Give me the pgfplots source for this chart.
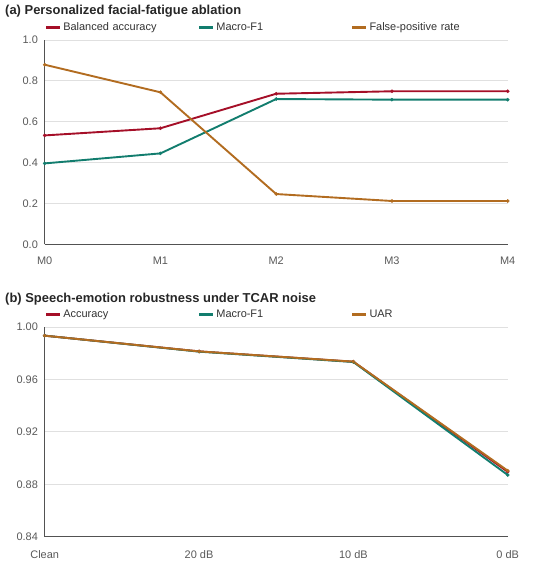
\documentclass[border=0pt]{standalone}
\usepackage{pgfplots}
\pgfplotsset{compat=1.18}
\usepackage{fontspec}
\setmainfont{Liberation Sans}
\definecolor{cred}{RGB}{165,15,40}
\definecolor{cteal}{RGB}{18,125,110}
\definecolor{corange}{RGB}{178,108,32}
\pgfplotsset{myax/.style={
  scale only axis, width=463bp,
  axis x line*=bottom, axis y line*=left,
  axis line style={draw=black!68, line width=1.3bp},
  major tick length=0pt,
  ymajorgrids, grid style={draw=black!12, line width=0.8bp},
  tick label style={font=\fontsize{11}{13}\selectfont, text=black!65},
  /pgf/number format/assume math mode=true,
  xticklabel style={anchor=base, yshift=-20bp},
  yticklabel style={xshift=-3.3bp},
  clip=false,
  xtick=data,
  legend style={draw=none, fill=none, inner sep=0pt, outer sep=0pt,
    legend columns=3, font=\fontsize{11}{13}\selectfont, text=black!80,
    nodes={inner xsep=2bp, inner ysep=0pt, text width=132.5bp, align=left},
    /tikz/every even column/.append style={column sep=0pt},
    at={(rel axis cs:0,1)}, anchor=west, yshift=12.5bp},
  legend cell align=left,
  legend image code/.code={\draw[line width=2.6bp,##1] (0bp,0bp) -- (14bp,0bp);},
  every axis plot/.append style={line width=1.9bp, mark=*, mark size=1.6bp, mark options={solid, line width=0.4bp}},
}}
\begin{document}
\begin{tikzpicture}[x=1bp,y=1bp]
\useasboundingbox (0,0) rectangle (550,-563);
\node[anchor=base west, font=\fontsize{13}{15}\selectfont\bfseries, inner sep=0pt, text=black!85] at (5,-15) {(a) Personalized facial-fatigue ablation};
\begin{axis}[myax, at={(44.7bp,-244.3bp)}, anchor=south west, height=204.3bp,
  xmin=0, xmax=4, ymin=0, ymax=1, ytick={0,0.2,0.4,0.6,0.8,1.0},
  xticklabels={M0,M1,M2,M3,M4},
  yticklabel style={/pgf/number format/.cd, fixed, fixed zerofill, precision=1}]
\addplot[cred] coordinates {(0,0.533) (1,0.568) (2,0.737) (3,0.749) (4,0.749)};
\addlegendentry{Balanced accuracy}
\addplot[cteal] coordinates {(0,0.396) (1,0.445) (2,0.711) (3,0.708) (4,0.708)};
\addlegendentry{Macro-F1}
\addplot[corange] coordinates {(0,0.879) (1,0.744) (2,0.246) (3,0.212) (4,0.212)};
\addlegendentry{False-positive rate}
\end{axis}
\node[anchor=base west, font=\fontsize{13}{15}\selectfont\bfseries, inner sep=0pt, text=black!85] at (5,-302.7) {(b) Speech-emotion robustness under TCAR noise};
\begin{axis}[myax, at={(44.7bp,-536.7bp)}, anchor=south west, height=209.7bp,
  xmin=0, xmax=3, ymin=0.84, ymax=1.0, ytick={0.84,0.88,0.92,0.96,1.00},
  xticklabels={Clean,20 dB,10 dB,0 dB},
  xticklabel style={yshift=-1.5bp},
  yticklabel style={/pgf/number format/.cd, fixed, fixed zerofill, precision=2}]
\addplot[cred] coordinates {(0,0.9934) (1,0.9814) (2,0.9735) (3,0.8895)};
\addlegendentry{Accuracy}
\addplot[cteal] coordinates {(0,0.9934) (1,0.9812) (2,0.9733) (3,0.8871)};
\addlegendentry{Macro-F1}
\addplot[corange] coordinates {(0,0.9934) (1,0.9814) (2,0.9736) (3,0.8904)};
\addlegendentry{UAR}
\end{axis}
\end{tikzpicture}
\end{document}
